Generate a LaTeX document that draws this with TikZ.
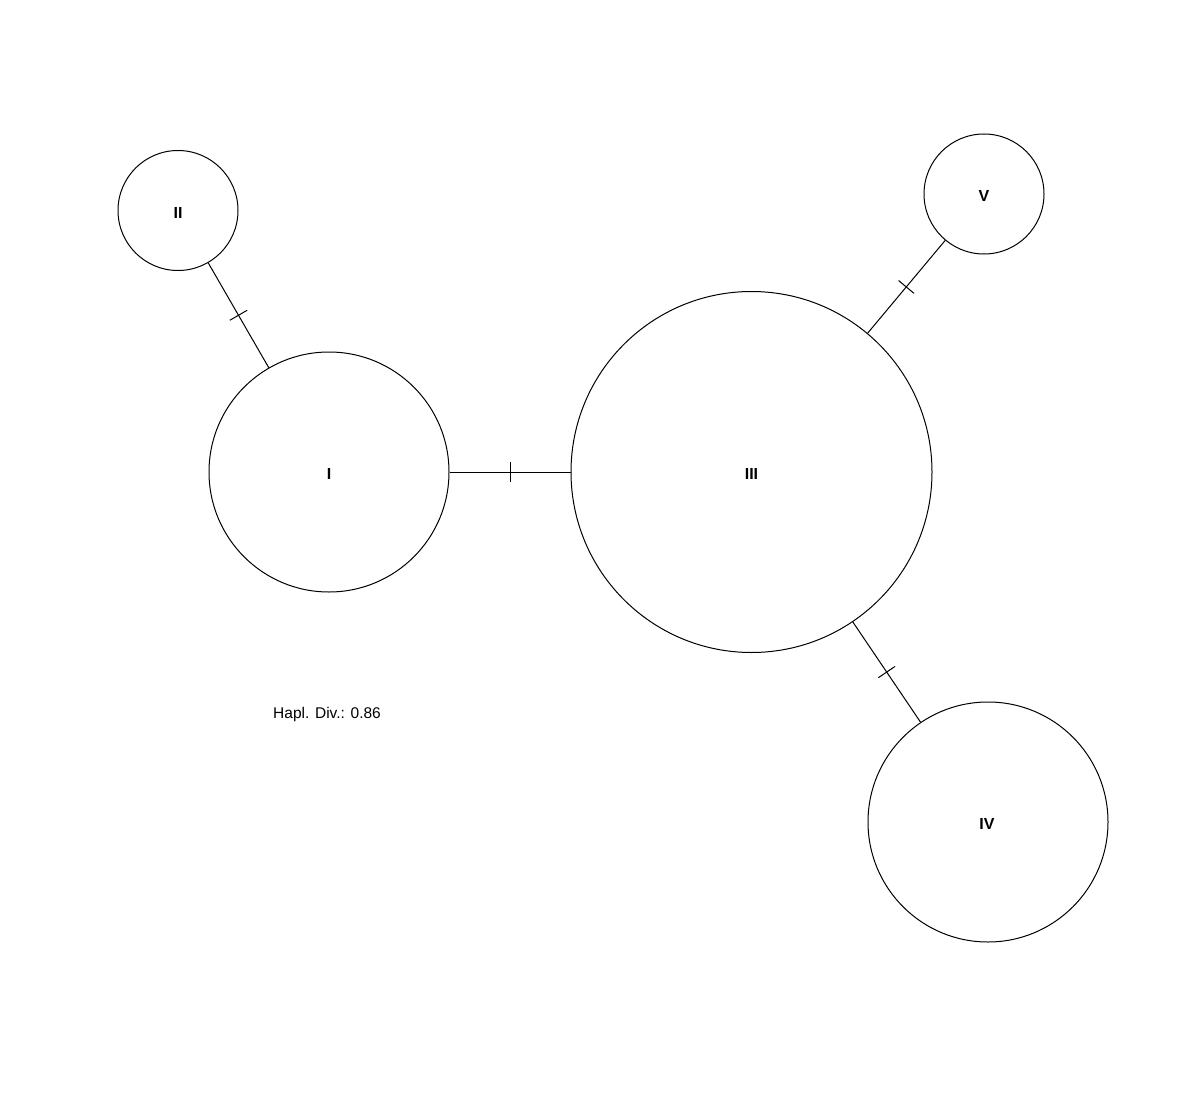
\documentclass[tikz,border=0pt]{standalone}
\usepackage{fontspec}
\setmainfont{Liberation Sans}
\usetikzlibrary{decorations.markings}
\begin{document}
\begin{tikzpicture}[x=1pt,y=-1pt,
  hap/.style={circle,draw=black,line width=1pt,inner sep=0pt,minimum size=#1},
  hapname/.style={anchor=base,inner sep=0pt,font=\fontsize{16}{19}\selectfont\bfseries},
  link/.style={draw=black,line width=1pt,
    postaction={decorate,decoration={markings,
      mark=at position 0.5 with {\draw[line width=1pt] (0,-10pt) -- (0,10pt);}}}},
  note/.style={anchor=base west,inner sep=0pt,font=\fontsize{15.5}{18}\selectfont}]
\useasboundingbox (0,0) rectangle (1189,1097);
% haplotype circles
\node[hap=120pt] (II)  at (178,210.5) {};
\node[hap=240pt] (I)   at (329,472) {};
\node[hap=361pt] (III) at (751.5,472) {};
\node[hap=120pt] (V)   at (984,194) {};
\node[hap=240pt] (IV)  at (988,822) {};
% labels
\node[hapname] (tII)  at (178,218) {II};
\node[hapname] (tI)   at (329,479) {I};
\node[hapname] (tIII) at (751.5,479) {III};
\node[hapname] (tV)   at (984,201.5) {V};
\node[hapname] (tIV)  at (987,829.5) {IV};
% connectors with mutation ticks
\draw[link] (II) -- (I);
\draw[link] (I) -- (III);
\draw[link] (III) -- (V);
\draw[link] (III) -- (IV);
% diversity note
\node[note] (div) at (273,718.5) {Hapl. Div.: 0.86};
\end{tikzpicture}
\end{document}
